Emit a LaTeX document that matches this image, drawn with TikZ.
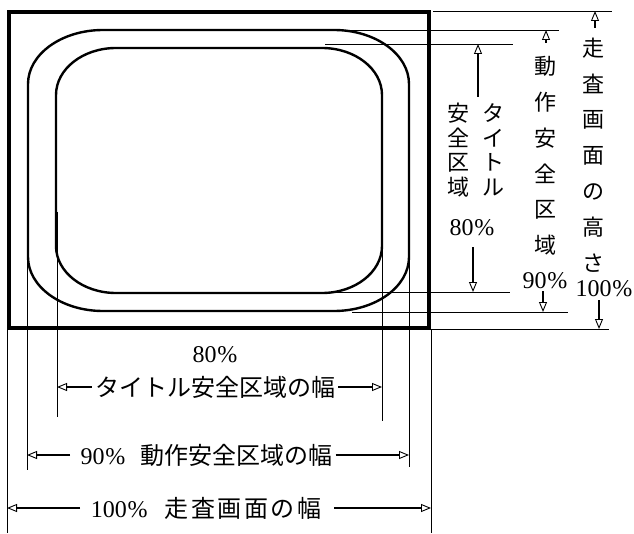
\documentclass[tikz,border=0pt]{standalone}
\usepackage{fontspec}
\setmainfont{Liberation Serif}
\newfontfamily\jp{Noto Sans CJK JP}
\usetikzlibrary{arrows.meta}
\newcommand\pct{\hspace{0.8bp}\%}
\begin{document}
\begin{tikzpicture}[x=1bp,y=-1bp,
  frame/.style={line width=4.5bp},
  zone/.style={line width=2.4bp},
  ext/.style={line width=0.9bp},
  arr/.style={line width=1.8bp,-{Triangle[open,length=10bp,width=8bp,line width=0.9bp]}},
  lbl/.style={inner sep=0pt, font=\fontsize{24bp}{25bp}\selectfont},
  hl/.style={inner ysep=0pt, inner xsep=3bp, font=\fontsize{24bp}{25bp}\selectfont},
  vt/.style={inner sep=0pt, align=center, font=\fontsize{22bp}{35.8bp}\selectfont\jp},
  vts/.style={inner sep=0pt, align=center, font=\fontsize{22bp}{24.5bp}\selectfont\jp},
]
\useasboundingbox (0,0) rectangle (634,534);

% screen frame
\draw[frame] (9,12) rectangle (429,328);

% action safe area (90%)
\draw[zone] (103,30) -- (334,30) .. controls (375.4,30) and (409,54.2) .. (409,84)
  -- (409,257) .. controls (409,286.8) and (375.4,311) .. (334,311)
  -- (103,311) .. controls (61.6,311) and (28,286.8) .. (28,257)
  -- (28,84) .. controls (28,54.2) and (61.6,30) .. (103,30) -- cycle;

% title safe area (80%)
\draw[zone] (116,48) -- (322,48) .. controls (355.1,48) and (382,69) .. (382,95)
  -- (382,246) .. controls (382,272) and (355.1,293) .. (322,293)
  -- (116,293) .. controls (82.9,293) and (56,272) .. (56,246)
  -- (56,95) .. controls (56,69) and (82.9,48) .. (116,48) -- cycle;

% extension lines
\draw[ext] (433,11) -- (612,11);
\draw[ext] (343,30) -- (559,30);
\draw[ext] (325,44) -- (513,44);
\draw[ext] (317,292) -- (510,292);
\draw[ext] (352,312) -- (568,312);
\draw[ext] (430,329) -- (609,329);
\draw[ext] (7,330) -- (7,533);
\draw[ext] (431,330) -- (431,533);
\draw[ext] (27,263) -- (27,470);
\draw[ext] (57,212) -- (57,417);
\draw[ext] (382,250) -- (382,421);
\draw[ext] (409,257) -- (409,467);

% horizontal labels
\node[lbl] (pw80) at (215,355) {80\pct};
\node[hl] (w80) at (215,387) {\jp タイトル安全区域の幅};
\node[hl] (w90) at (206.5,455) {90\pct\hspace{15bp}{\jp 動作安全区域の幅}};
\node[hl] (w100) at (206,508) {100\pct\hspace{17bp}{\jp 走\hspace{2.5bp}査\hspace{2.5bp}画\hspace{2.5bp}面\hspace{2.5bp}の\hspace{2.5bp}幅}};

\coordinate (w80l) at (57,387);  \coordinate (w80r) at (382,387);
\coordinate (w90l) at (27,455);  \coordinate (w90r) at (409,455);
\coordinate (w100l) at (7,508);  \coordinate (w100r) at (431,508);
\coordinate (w90ls) at (70,455);
\coordinate (w100ls) at (80,508);
\coordinate (w100rs) at (334,508);

\draw[arr] (w80.west) -- (w80l);
\draw[arr] (w80.east) -- (w80r);
\draw[arr] (w90ls) -- (w90l);
\draw[arr] (w90.east) -- (w90r);
\draw[arr] (w100ls) -- (w100l);
\draw[arr] (w100rs) -- (w100r);

% vertical labels
\node[vt] (h100) at (593,155) {走\\査\\画\\面\\の\\高\\さ};
\node[vt] (h90) at (545,156) {動\\作\\安\\全\\区\\域};
\node[vts] (h80a) at (493,150) {タ\\イ\\ト\\ル};
\node[vts] (h80b) at (458,150) {安\\全\\区\\域};
\node[lbl] (p80) at (472,228) {80\pct};
\node[lbl] (p90) at (545,281) {90\pct};
\node[lbl] (p100) at (604,289) {100\pct};

\coordinate (t80u) at (478,97);  \coordinate (h80u) at (478,44);
\coordinate (t80d) at (473,247); \coordinate (h80d) at (473,292);
\coordinate (t90u) at (546,43);  \coordinate (h90u) at (546,30);
\coordinate (t90d) at (543,291); \coordinate (h90d) at (543,312);
\coordinate (t100u) at (595,28); \coordinate (h100u) at (595,11);
\coordinate (t100d) at (599,300); \coordinate (h100d) at (599,329);

\draw[arr] (t80u) -- (h80u);
\draw[arr] (t80d) -- (h80d);
\draw[arr] (t90u) -- (h90u);
\draw[arr] (t90d) -- (h90d);
\draw[arr] (t100u) -- (h100u);
\draw[arr] (t100d) -- (h100d);
\end{tikzpicture}
\end{document}
